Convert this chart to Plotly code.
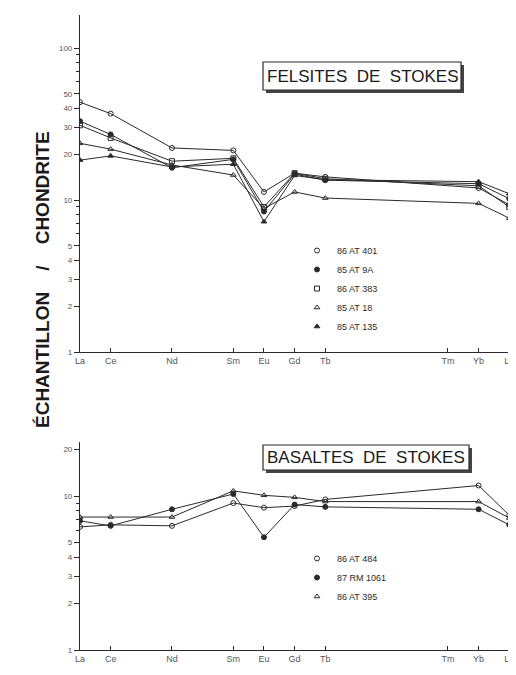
import plotly.graph_objects as go

# ---------------- data ----------------
tick_elements = ["La", "Ce", "Nd", "Sm", "Eu", "Gd", "Tb", "Tm", "Yb", "Lu"]
tick_atomic_numbers = [57, 58, 60, 62, 63, 64, 65, 69, 70, 71]
sample_elements = ["La", "Ce", "Nd", "Sm", "Eu", "Gd", "Tb", "Yb", "Lu"]

# Felsites de Stokes (sample / chondrite)
felsite_names = ["86 AT 401", "85 AT 9A", "86 AT 383", "85 AT 18", "85 AT 135"]
fel_86AT401 = [44.0, 37.0, 22.0, 21.2, 11.3, 15.0, 14.2, 12.0, 9.3]
fel_85AT9A = [33.0, 27.0, 16.3, 18.5, 8.4, 14.8, 13.5, 12.8, 10.2]
fel_86AT383 = [31.0, 25.6, 18.0, 18.8, 9.0, 15.0, 13.8, 12.4, 9.0]
fel_85AT18 = [23.6, 21.6, 17.0, 14.6, 8.8, 11.3, 10.3, 9.5, 7.6]
fel_85AT135 = [18.3, 19.5, 16.5, 17.2, 7.2, 14.5, 13.6, 13.2, 11.0]

# Basaltes de Stokes
basalt_names = ["86 AT 484", "87 RM 1061", "86 AT 395"]
bas_86AT484 = [6.3, 6.5, 6.4, 9.0, 8.4, 8.6, 9.5, 11.7, 7.5]
bas_87RM1061 = [6.9, 6.4, 8.2, 10.3, 5.4, 8.8, 8.5, 8.2, 6.5]
bas_86AT395 = [7.3, 7.3, 7.3, 10.8, 10.1, 9.8, 9.2, 9.2, 7.2]

top_ticks = [1, 2, 3, 4, 5, 10, 20, 30, 40, 50, 100]
top_minor = [6, 7, 8, 9, 60, 70, 80, 90]
bot_ticks = [1, 2, 3, 4, 5, 10, 20]
bot_minor = [6, 7, 8, 9]

# ---------------- styling ----------------
OFF = 8                      # page body margin of the html page
W, H = 516 - OFF, 675 - 2 * OFF
INK = "#2a2a2a"
TICKC = "#555555"

def px_x(p):
    return (p - OFF) / W

def px_y(p):
    return 1 - (p - OFF) / H

z_of = dict(zip(tick_elements, tick_atomic_numbers))
xs = [z_of[e] for e in sample_elements]

fel_series = [fel_86AT401, fel_85AT9A, fel_86AT383, fel_85AT18, fel_85AT135]
fel_symbols = ["circle-open", "circle", "square-open", "triangle-up-open", "triangle-up"]
bas_series = [bas_86AT484, bas_87RM1061, bas_86AT395]
bas_symbols = ["circle-open", "circle", "triangle-up-open"]

fig = go.Figure()

def add_group(series, names, symbols, xa, ya, legend):
    for vals in series:
        fig.add_trace(go.Scatter(
            x=xs, y=vals, mode="lines", xaxis=xa, yaxis=ya,
            line=dict(color=INK, width=1), showlegend=False, hoverinfo="skip"))
    for vals, name, sym in zip(series, names, symbols):
        fig.add_trace(go.Scatter(
            x=xs, y=vals, mode="markers", name=name, xaxis=xa, yaxis=ya,
            legend=legend,
            marker=dict(symbol=sym, size=5, color=INK,
                        line=dict(color=INK, width=1))))

add_group(fel_series, felsite_names, fel_symbols, "x", "y", "legend")
add_group(bas_series, basalt_names, bas_symbols, "x2", "y2", "legend2")

xdom = [px_x(80), px_x(513)]
xrange = [57, 57 + (513 - 80) / 30.66]

def xaxis_cfg(anchor):
    return dict(domain=xdom, range=xrange, anchor=anchor,
                tickmode="array", tickvals=tick_atomic_numbers, ticktext=tick_elements,
                ticks="inside", ticklen=4, tickwidth=1, tickcolor=INK,
                showline=True, linecolor=INK, linewidth=1.2,
                showgrid=False, zeroline=False,
                tickfont=dict(family="Liberation Sans", size=9, color=TICKC))

def yaxis_cfg(anchor, dom, top_log, vals, minor):
    return dict(domain=dom, type="log", range=[0, top_log], anchor=anchor,
                tickmode="array", tickvals=vals, ticktext=[str(v) for v in vals],
                ticks="outside", ticklen=5, tickwidth=1, tickcolor=INK,
                minor=dict(tickmode="array", tickvals=minor, ticks="outside",
                           ticklen=3, tickcolor=INK),
                showline=True, linecolor=INK, linewidth=1.2,
                showgrid=False, zeroline=False,
                tickfont=dict(family="Liberation Sans", size=8, color=TICKC))

fig.update_layout(
    width=W, height=H,
    margin=dict(l=0, r=0, t=0, b=0, autoexpand=False),
    paper_bgcolor="white", plot_bgcolor="white",
    xaxis=xaxis_cfg("y"),
    yaxis=yaxis_cfg("x", [px_y(352), px_y(15)], (352 - 15) / 152, top_ticks, top_minor),
    xaxis2=xaxis_cfg("y2"),
    yaxis2=yaxis_cfg("x2", [px_y(650), px_y(441.7)], (650 - 441.7) / 154, bot_ticks, bot_minor),
    legend=dict(x=px_x(297), y=px_y(236), xanchor="left", yanchor="top",
                bgcolor="rgba(0,0,0,0)", tracegroupgap=0,
                font=dict(family="Liberation Sans", size=9, color=INK)),
    legend2=dict(x=px_x(297), y=px_y(544), xanchor="left", yanchor="top",
                 bgcolor="rgba(0,0,0,0)", tracegroupgap=0,
                 font=dict(family="Liberation Sans", size=9, color=INK)),
    showlegend=True,
)

# title boxes with drop shadow
def title_box(x0, x1, y0, y1, text):
    fig.add_shape(type="rect", xref="paper", yref="paper",
                  x0=px_x(x0 + 3), x1=px_x(x1 + 3), y0=px_y(y1 + 3), y1=px_y(y0 + 3),
                  fillcolor="#444444", line=dict(width=0), layer="above")
    fig.add_shape(type="rect", xref="paper", yref="paper",
                  x0=px_x(x0), x1=px_x(x1), y0=px_y(y1), y1=px_y(y0),
                  fillcolor="white", line=dict(color=INK, width=1.2), layer="above")
    fig.add_annotation(xref="paper", yref="paper",
                       x=px_x((x0 + x1) / 2), y=px_y((y0 + y1) / 2),
                       xanchor="center", yanchor="middle",
                       text=text, showarrow=False,
                       font=dict(family="Liberation Sans", size=17, color="#1a1a1a"))

title_box(263, 461, 62, 90, "FELSITES&nbsp;&nbsp;DE&nbsp;&nbsp;STOKES")
title_box(263, 469, 445, 470, "BASALTES&nbsp;&nbsp;DE&nbsp;&nbsp;STOKES")

fig.add_annotation(xref="paper", yref="paper", x=px_x(42), y=px_y(280),
                   xanchor="center", yanchor="middle",
                   text="<b>ÉCHANTILLON&nbsp;&nbsp;&nbsp;&nbsp;/&nbsp;&nbsp;&nbsp;&nbsp;CHONDRITE</b>",
                   textangle=-90, showarrow=False,
                   font=dict(family="Liberation Sans", size=19, color="#1a1a1a"))

fig.write_html("out.html")
